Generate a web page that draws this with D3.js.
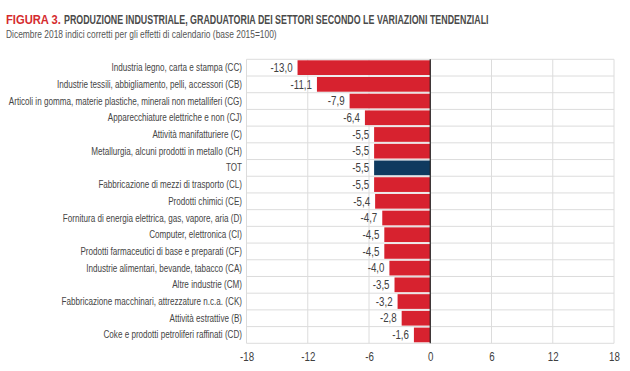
<!DOCTYPE html>
<html lang="it">
<head>
<meta charset="UTF-8">
<title>Figura 3</title>
<script src="https://cdn.jsdelivr.net/npm/d3@7/dist/d3.min.js"></script>
<style>
    body { margin: 0; background: #fff; }
    svg { display: block; font-family: "Liberation Sans", Arial, sans-serif; }
    .grid line { stroke: #dcdcdc; stroke-width: 1; }
    .cat { fill: #454545; font-size: 10px; }
    .val { fill: #404040; font-size: 12px; }
</style>
</head>
<body>
<svg id="chart"></svg>
<script>
// data
var sectors = [
    "Industria legno, carta e stampa (CC)",
    "Industrie tessili, abbigliamento, pelli, accessori (CB)",
    "Articoli in gomma, materie plastiche, minerali non metalliferi (CG)",
    "Apparecchiature elettriche e non (CJ)",
    "Attività manifatturiere (C)",
    "Metallurgia, alcuni prodotti in metallo (CH)",
    "TOT",
    "Fabbricazione di mezzi di trasporto (CL)",
    "Prodotti chimici (CE)",
    "Fornitura di energia elettrica, gas, vapore, aria (D)",
    "Computer, elettronica (CI)",
    "Prodotti farmaceutici di base e preparati (CF)",
    "Industrie alimentari, bevande, tabacco (CA)",
    "Altre industrie (CM)",
    "Fabbricazione macchinari, attrezzature n.c.a. (CK)",
    "Attività estrattive (B)",
    "Coke e prodotti petroliferi raffinati (CD)"
];
var variations = [-13.0, -11.1, -7.9, -6.4, -5.5, -5.5, -5.5, -5.5, -5.4, -4.7, -4.5, -4.5, -4.0, -3.5, -3.2, -2.8, -1.6];
var xTicks = [-18, -12, -6, 0, 6, 12, 18];

var W = 630, H = 371;
var plotLeft = 246.5, plotRight = 614, plotTop = 59.3, plotBottom = 343.3;
var narrow = 0.81; // the original uses a condensed face

var svg = d3.select("#chart").attr("width", W).attr("height", H);

// squeeze a text horizontally, keeping its anchor
function condense(sel, k) {
    sel.each(function() {
        var w = this.getComputedTextLength();
        d3.select(this).attr("textLength", w * k).attr("lengthAdjust", "spacingAndGlyphs");
    });
}

// a text squeezed to a given width by scaling its group
function fitText(x, y, width, txt, size, weight, colour) {
    var g = svg.append("g");
    var t = g.append("text").attr("fill", colour)
        .style("font-size", size + "px").style("font-weight", weight).text(txt);
    var k = width / t.node().getComputedTextLength();
    g.attr("transform", "translate(" + x + "," + y + ") scale(" + k + ",1)");
}

// title
fitText(6, 24, 55, "FIGURA 3.", 12.5, "bold", "#d52b2e");
fitText(64, 24, 425, "PRODUZIONE INDUSTRIALE, GRADUATORIA DEI SETTORI SECONDO LE VARIAZIONI TENDENZIALI", 12.5, "bold", "#4a4a4a");
fitText(6, 38, 271, "Dicembre 2018 indici corretti per gli effetti di calendario (base 2015=100)", 11, "normal", "#555");

var data = sectors.map(function(s, i) { return {name: s, v: variations[i]}; });

var xs = d3.scaleLinear().domain([-18, 18]).range([plotLeft, plotRight]);
var ys = d3.scaleBand().domain(sectors).range([plotTop, plotBottom]).paddingInner(0.12).paddingOuter(0.06);

// grid
var grid = svg.append("g").attr("class", "grid");
grid.selectAll("line.v").data(xTicks).enter().append("line")
    .attr("x1", function(d) { return xs(d); }).attr("x2", function(d) { return xs(d); })
    .attr("y1", plotTop).attr("y2", plotBottom);
var bounds = d3.range(sectors.length + 1).map(function(i) { return plotTop + i * ys.step(); });
grid.selectAll("line.h").data(bounds).enter().append("line")
    .attr("x1", plotLeft).attr("x2", plotRight)
    .attr("y1", function(d) { return d; }).attr("y2", function(d) { return d; });

// bars
svg.append("g").selectAll("rect").data(data).enter().append("rect")
    .attr("x", function(d) { return xs(Math.min(0, d.v)); })
    .attr("width", function(d) { return Math.abs(xs(d.v) - xs(0)); })
    .attr("y", function(d) { return ys(d.name); })
    .attr("height", ys.bandwidth())
    .attr("fill", function(d) { return d.name === "TOT" ? "#0f3a5f" : "#d7222f"; });

// zero line
svg.append("line")
    .attr("x1", xs(0)).attr("x2", xs(0)).attr("y1", plotTop).attr("y2", plotBottom)
    .attr("stroke", "#222").attr("stroke-width", 1.2);

// value labels
var fmt = function(v) { return d3.format(".1f")(v).replace(".", ",").replace("−", "-"); };
svg.append("g").selectAll("text").data(data).enter().append("text")
    .attr("class", "val")
    .attr("x", function(d) { return xs(d.v) - 5; })
    .attr("y", function(d) { return ys(d.name) + ys.bandwidth() / 2; })
    .attr("dy", "0.35em")
    .attr("text-anchor", "end")
    .text(function(d) { return fmt(d.v); })
    .call(condense, narrow);

// category labels
svg.append("g").selectAll("text").data(data).enter().append("text")
    .attr("class", "cat")
    .attr("x", 242)
    .attr("y", function(d) { return ys(d.name) + ys.bandwidth() / 2; })
    .attr("dy", "0.35em")
    .attr("text-anchor", "end")
    .text(function(d) { return d.name; })
    .call(condense, narrow);

// x axis labels
var xAxis = svg.append("g").attr("transform", "translate(0," + plotBottom + ")")
    .call(d3.axisBottom(xs).tickValues(xTicks).tickSize(0).tickPadding(9).tickFormat(d3.format("d")));
xAxis.select(".domain").remove();
xAxis.selectAll("text").attr("fill", "#404040")
    .style("font-family", "inherit").style("font-size", "12px")
    .text(function(d) { return String(d); })
    .call(condense, narrow);
</script>
</body>
</html>
